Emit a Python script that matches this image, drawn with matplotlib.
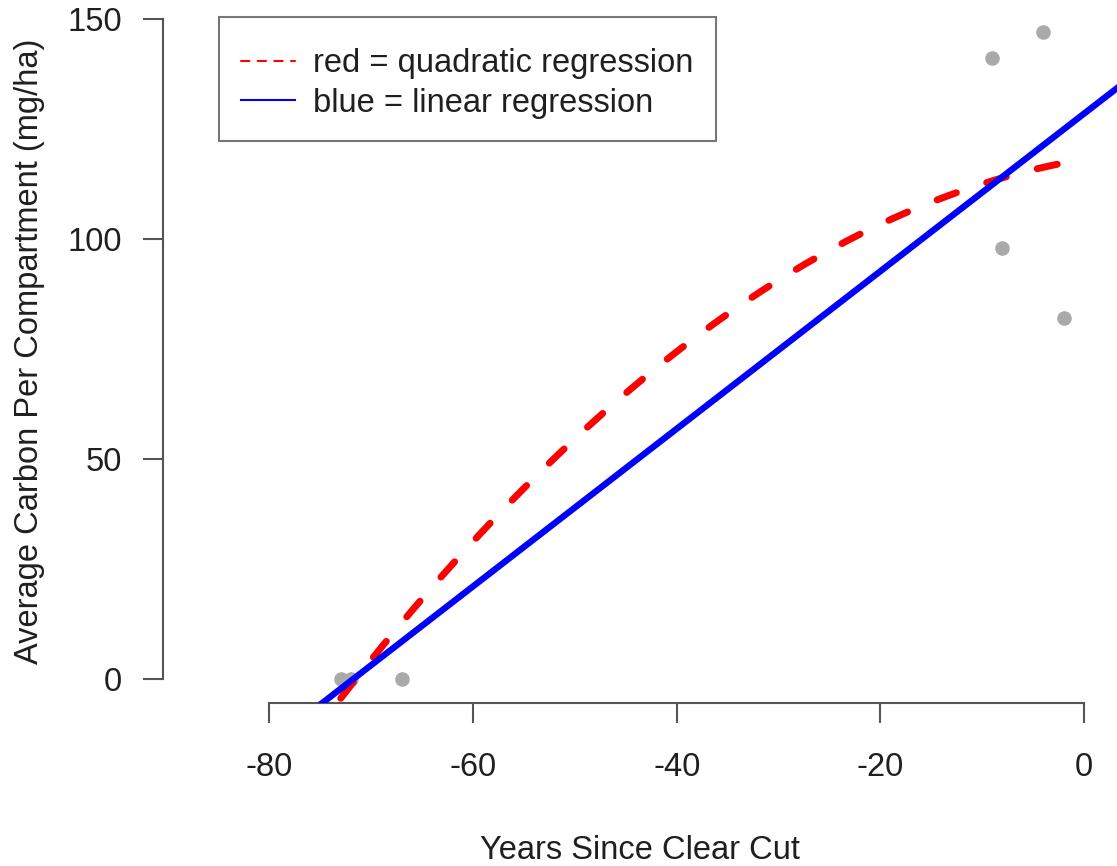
import numpy as np
import matplotlib
matplotlib.use("Agg")
from matplotlib import pyplot as plt

# observed compartment averages
years = [-73, -72, -67, -9, -8, -4, -2]
carbon = [0, 0, 0, 141, 98, 147, 82]

# fitted lines
lin_intercept = 128.4
lin_slope = 1.79
quad_coef = [-0.01773, 0.3836, 118.04]   # c, b, a
quad_span = (-73, -2)

xticks = [-80, -60, -40, -20, 0]
yticks = [0, 50, 100, 150]

plt.rcParams['font.family'] = ['Liberation Sans', 'DejaVu Sans']
plt.rcParams['axes.unicode_minus'] = False
txt = '#1f1f1f'
axc = '#555555'
fs = 23.5

fig = plt.figure(figsize=(11.17, 8.66), dpi=100)
ax = fig.add_axes([163 / 1117, 163 / 866, 954 / 1117, 703 / 866])

ax.plot(years, carbon, 'o', color='#aaaaaa', markersize=10.5, markeredgewidth=0, zorder=2)

xs = np.linspace(quad_span[0], quad_span[1], 200)
ax.plot(xs, np.polyval(quad_coef, xs), color='red', lw=5.0,
        linestyle=(0, (2.95, 4.6)), dash_capstyle='round',
        label='red = quadratic regression', zorder=3)
ax.axline((0, lin_intercept), slope=lin_slope, color='blue', lw=4.6,
          label='blue = linear regression', zorder=3)

ax.set_xlim(-90.46, 3.25)
ax.set_ylim(-5.52, 154.25)

for s in ['top', 'right']:
    ax.spines[s].set_visible(False)
ax.spines['left'].set_bounds(0, 150)
ax.spines['bottom'].set_bounds(-80, 0)
for s in ['left', 'bottom']:
    ax.spines[s].set_color(axc)
    ax.spines[s].set_linewidth(1.5)

ax.set_xticks(xticks)
ax.set_yticks(yticks)
ax.tick_params(axis='both', direction='out', length=14.5, width=1.5, color=axc,
               labelsize=fs, labelcolor=txt)
ax.tick_params(axis='x', pad=21)
ax.tick_params(axis='y', pad=15)

ax.set_xlabel('Years Since Clear Cut', fontsize=fs, color=txt)
ax.set_ylabel('Average Carbon Per Compartment (mg/ha)', fontsize=fs, color=txt)
ax.xaxis.set_label_coords(0.5, -0.188)
ax.yaxis.set_label_coords(-0.124, 0.5)

# tiny blank title pushes the rows down a bit, like R's legend box
leg = ax.legend(loc='upper left', bbox_to_anchor=(219 / 1117, 1 - 17 / 866),
                bbox_transform=fig.transFigure, borderaxespad=0, fontsize=fs,
                title=' ', title_fontsize=1,
                frameon=True, fancybox=False, borderpad=0.68, labelspacing=0.25,
                handlelength=1.65, handletextpad=0.55)
leg.get_frame().set_edgecolor(axc)
leg.get_frame().set_linewidth(1.5)
for t in leg.get_texts():
    t.set_color(txt)
hl = leg.get_lines()
for h in hl:
    h.set_linewidth(1.5)
hl[0].set_linestyle((0, (4, 4)))

fig.savefig('out.png', dpi=100)
